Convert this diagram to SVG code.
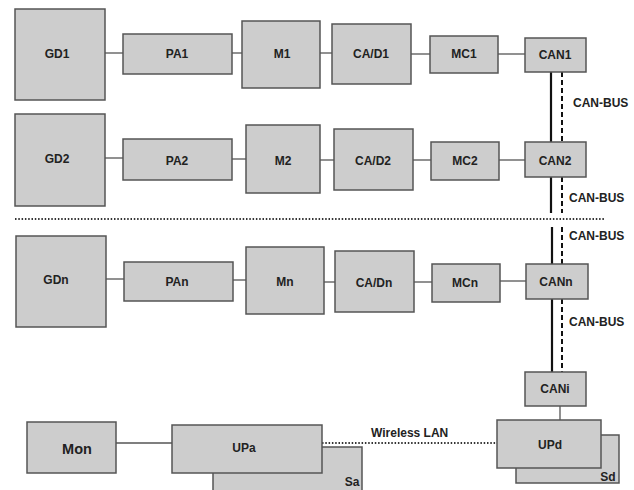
<svg xmlns="http://www.w3.org/2000/svg" width="634" height="490" viewBox="0 0 634 490">
<style>
.b{fill:#cdcdcd;stroke:#555;stroke-width:1.5}
.t{font-family:"Liberation Sans",Arial,sans-serif;font-weight:bold;font-size:12px;fill:#222;text-anchor:middle;dominant-baseline:central}
.l{stroke:#555;stroke-width:1.3;fill:none}
.bus{stroke:#111;stroke-width:2.2;fill:none}
.dash{stroke:#111;stroke-width:2;stroke-dasharray:5 3;fill:none}
.dot{stroke:#333;stroke-width:2;stroke-dasharray:1.5 1.8;fill:none}
</style>
<rect width="634" height="490" fill="#fff"/>
<g id="connectors">
<line class="l" x1="105" y1="53" x2="123" y2="53"/>
<line class="l" x1="232" y1="53" x2="242" y2="53"/>
<line class="l" x1="320" y1="53" x2="332" y2="53"/>
<line class="l" x1="411" y1="54" x2="430" y2="54"/>
<line class="l" x1="498" y1="54" x2="525" y2="54"/>
<line class="l" x1="105" y1="158" x2="123" y2="158"/>
<line class="l" x1="232" y1="159" x2="246" y2="159"/>
<line class="l" x1="320" y1="160" x2="334" y2="160"/>
<line class="l" x1="413" y1="160" x2="431" y2="160"/>
<line class="l" x1="499" y1="160" x2="525" y2="160"/>
<line class="l" x1="106" y1="279" x2="124" y2="279"/>
<line class="l" x1="233" y1="280" x2="246" y2="280"/>
<line class="l" x1="324" y1="282" x2="335" y2="282"/>
<line class="l" x1="414" y1="282" x2="432" y2="282"/>
<line class="l" x1="500" y1="281" x2="526" y2="281"/>
<line class="bus" x1="551" y1="72" x2="551" y2="142"/>
<line class="bus" x1="551" y1="177" x2="551" y2="213"/>
<line class="bus" x1="552" y1="227" x2="552" y2="264"/>
<line class="bus" x1="552" y1="299" x2="552" y2="372"/>
<line class="dash" x1="562" y1="72" x2="562" y2="142"/>
<line class="dash" x1="562" y1="177" x2="562" y2="213"/>
<line class="dash" x1="562" y1="227" x2="562" y2="264"/>
<line class="dash" x1="562" y1="299" x2="562" y2="372"/>
<line class="l" x1="560" y1="406" x2="560" y2="420"/>
<line class="l" x1="116" y1="443" x2="172" y2="443"/>
<line class="dot" x1="322" y1="443" x2="497" y2="443"/>
<line class="dot" x1="15" y1="219" x2="604" y2="219"/>
</g>
<g id="GD1"><rect class="b" x="15" y="9" width="90" height="91"/><text class="t" x="57" y="54">GD1</text></g>
<g id="PA1"><rect class="b" x="123" y="34" width="109" height="40"/><text class="t" x="177" y="54">PA1</text></g>
<g id="M1"><rect class="b" x="242" y="21" width="78" height="67"/><text class="t" x="282" y="54">M1</text></g>
<g id="CAD1"><rect class="b" x="332" y="24" width="79" height="60"/><text class="t" x="371" y="54">CA/D1</text></g>
<g id="MC1"><rect class="b" x="430" y="36" width="68" height="37"/><text class="t" x="464" y="54">MC1</text></g>
<g id="CAN1"><rect class="b" x="525" y="38" width="61" height="34"/><text class="t" x="555" y="55">CAN1</text></g>
<g id="GD2"><rect class="b" x="15" y="114" width="90" height="92"/><text class="t" x="57" y="159">GD2</text></g>
<g id="PA2"><rect class="b" x="123" y="139" width="109" height="41"/><text class="t" x="177" y="161">PA2</text></g>
<g id="M2"><rect class="b" x="246" y="125" width="74" height="68"/><text class="t" x="283" y="161">M2</text></g>
<g id="CAD2"><rect class="b" x="334" y="129" width="79" height="61"/><text class="t" x="373" y="161">CA/D2</text></g>
<g id="MC2"><rect class="b" x="431" y="142" width="68" height="38"/><text class="t" x="465" y="161">MC2</text></g>
<g id="CAN2"><rect class="b" x="525" y="142" width="61" height="35"/><text class="t" x="555" y="161">CAN2</text></g>
<g id="GDn"><rect class="b" x="16" y="236" width="90" height="91"/><text class="t" x="56" y="280">GDn</text></g>
<g id="PAn"><rect class="b" x="124" y="262" width="109" height="39"/><text class="t" x="177" y="282">PAn</text></g>
<g id="Mn"><rect class="b" x="246" y="247" width="78" height="67"/><text class="t" x="285" y="282">Mn</text></g>
<g id="CADn"><rect class="b" x="335" y="251" width="79" height="61"/><text class="t" x="374" y="283">CA/Dn</text></g>
<g id="MCn"><rect class="b" x="432" y="264" width="68" height="38"/><text class="t" x="465" y="283">MCn</text></g>
<g id="CANn"><rect class="b" x="526" y="264" width="62" height="35"/><text class="t" x="556" y="282">CANn</text></g>
<g id="CANi"><rect class="b" x="525" y="372" width="61" height="34"/><text class="t" x="555" y="389">CANi</text></g>
<g id="Sd"><rect class="b" x="516" y="435" width="103" height="48"/><text class="t" x="608" y="477">Sd</text></g>
<g id="UPd"><rect class="b" x="497" y="420" width="104" height="48"/><text class="t" x="550" y="445">UPd</text></g>
<g id="Sa"><rect class="b" x="213" y="447" width="149" height="50"/><text class="t" x="352" y="482">Sa</text></g>
<g id="UPa"><rect class="b" x="172" y="425" width="150" height="48"/><text class="t" x="244" y="448">UPa</text></g>
<g id="Mon"><rect class="b" x="27" y="422" width="89" height="51"/><text class="t" x="77" y="449" style="font-size:14.5px">Mon</text></g>
<g id="labels">
<text class="t" x="573" y="103" style="text-anchor:start">CAN-BUS</text>
<text class="t" x="569" y="198" style="text-anchor:start">CAN-BUS</text>
<text class="t" x="569" y="236" style="text-anchor:start">CAN-BUS</text>
<text class="t" x="569" y="322" style="text-anchor:start">CAN-BUS</text>
<text class="t" x="371" y="433" style="text-anchor:start">Wireless LAN</text>
</g>
</svg>
